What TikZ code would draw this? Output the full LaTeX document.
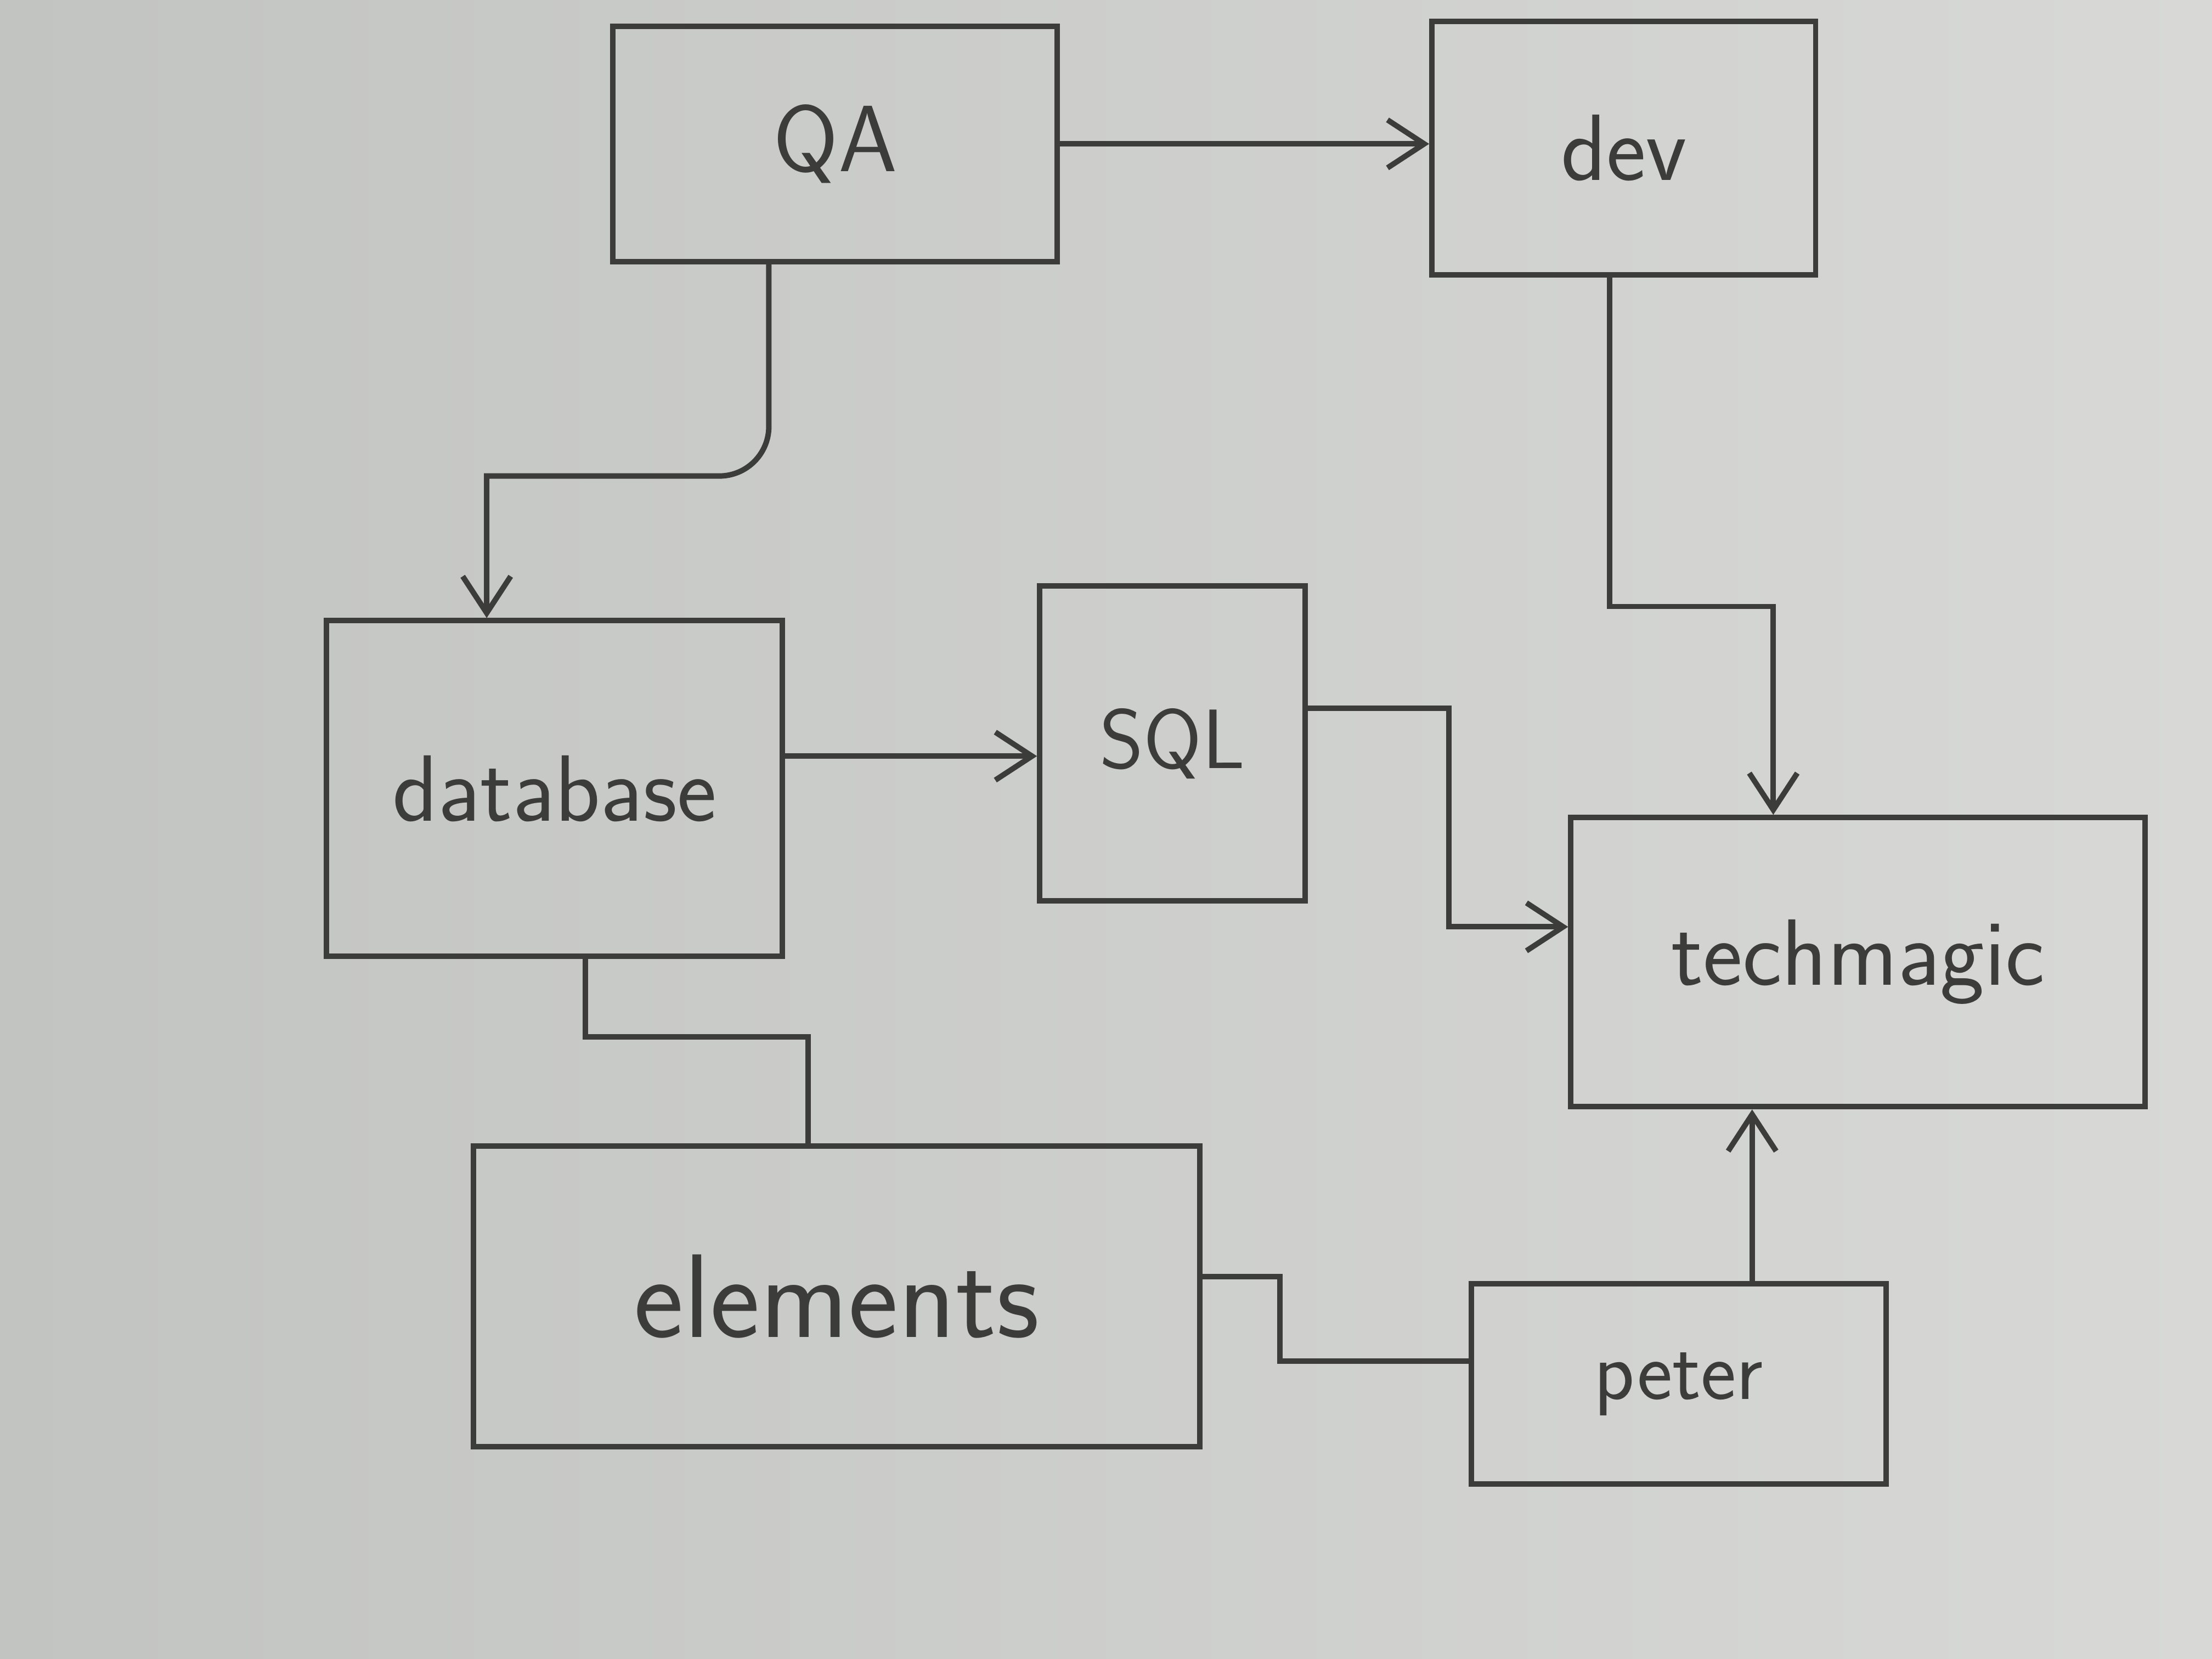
\documentclass[tikz,border=0pt]{standalone}
\usetikzlibrary{arrows.meta, positioning}

\definecolor{boardL}{RGB}{194,196,194}
\definecolor{boardR}{RGB}{216,217,214}
\definecolor{marker}{RGB}{60,60,58}

\begin{document}
\begin{tikzpicture}[
    >={Straight Barb[length=2.6mm, width=3.4mm]}, % open hand-drawn tips
    box/.style={draw=marker, line width=1.1pt, inner sep=0pt, text=marker,
        font=\sffamily\fontsize{19}{22}\selectfont}, % the boxes on the board
    link/.style={draw=marker, line width=1.1pt}, % plain connector
    arrow/.style={link, ->} % connector with tip
]

    % Whiteboard (fixes the page size too)
    \useasboundingbox (0,0) rectangle (15.68,-11.76);
    \shade[left color=boardL, right color=boardR] (0,0) rectangle (15.68,-11.76);

    % Boxes
    \node[box, minimum width=3.15cm, minimum height=1.67cm] (QA) at (5.92,-1.02) {QA};
    \node[box, minimum width=2.72cm, minimum height=1.80cm] (Dev) at (11.51,-1.05) {dev};
    \node[box, minimum width=3.23cm, minimum height=2.38cm] (Database) at (3.93,-5.59) {database};
    \node[box, minimum width=1.88cm, minimum height=2.23cm,
        font=\sffamily\fontsize{17}{20}\selectfont] (SQL) at (8.31,-5.27) {SQL};
    \node[box, minimum width=4.07cm, minimum height=2.05cm] (Techmagic) at (13.17,-6.82) {techmagic};
    \node[box, minimum width=5.15cm, minimum height=2.13cm,
        font=\sffamily\fontsize{24}{28}\selectfont] (Elements) at (5.93,-9.19) {elements};
    \node[box, minimum width=2.94cm, minimum height=1.42cm,
        font=\sffamily\fontsize{17}{20}\selectfont] (Peter) at (11.90,-9.81) {peter};

    % Arrows
    \draw[arrow] (QA.east) -- (QA.east -| Dev.west);
    \draw[arrow] ([xshift=-4.7mm]QA.south) [rounded corners=10pt] -- ++(0,-1.5)
        -- ++(-1.0,0) [sharp corners] -| ([xshift=-4.8mm]Database.north);
    \draw[arrow] ([xshift=-1mm]Dev.south) -- ++(0,-2.33) -| ([xshift=-6mm]Techmagic.north);
    \draw[arrow] ([yshift=2.3mm]Database.east) -- ([yshift=2.3mm]Database.east -| SQL.west);
    \draw[arrow] ([yshift=2.5mm]SQL.east) -- ++(1.0,0) |- ([yshift=2.5mm]Techmagic.west);
    \draw[arrow] ([xshift=5.2mm]Peter.north) -- ([xshift=5.2mm]Peter.north |- Techmagic.south);

    % Plain links
    \draw[link] ([xshift=2.2mm]Database.south) -- ++(0,-0.55) -| ([xshift=-2mm]Elements.north);
    \draw[link] ([yshift=1.4mm]Elements.east) -- ++(0.55,0) |- ([yshift=1.6mm]Peter.west);

\end{tikzpicture}
\end{document}
